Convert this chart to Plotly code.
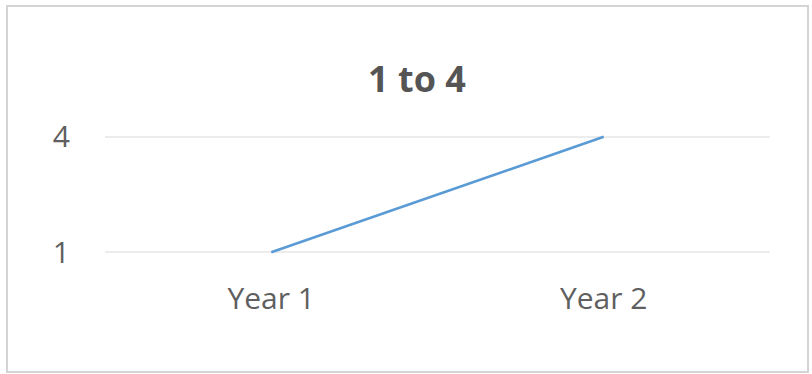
import plotly.graph_objects as go

# Series data
categories = ["Year 1", "Year 2"]
values = [1, 4]
y_ticks = [1, 4]
title_text = "1 to 4"

W, H = 812, 374
left, right, top, bottom = 105, 770, 133, 256
y_range = [0.9, 4.1]

fig = go.Figure()
fig.add_trace(go.Scatter(
    x=categories, y=values, mode="lines",
    line=dict(color="#5B9BD5", width=2.6),
    hoverinfo="skip", showlegend=False,
))

# Outer chart border, expressed in plot-area (paper) fractions
pw, ph = right - left, bottom - top
def px_x(px):
    return (px - left) / pw
def px_y(py):
    return (bottom - py) / ph

fig.add_shape(type="rect", xref="paper", yref="paper",
              x0=px_x(7), x1=px_x(808), y0=px_y(372), y1=px_y(6),
              line=dict(color="#D4D4D4", width=2), fillcolor="rgba(0,0,0,0)",
              layer="below")

fig.update_layout(
    width=W, height=H,
    margin=dict(l=left, r=W - right, t=top, b=H - bottom, pad=0),
    paper_bgcolor="white", plot_bgcolor="white",
    font=dict(family="Open Sans, Lato, sans-serif", color="#5F5F5F"),
    title=dict(text="<b>" + title_text + "</b>", x=417 / W, xanchor="center",
               y=1 - 79 / H, yanchor="middle", xref="container", yref="container",
               font=dict(size=36, color="#555555")),
    xaxis=dict(type="category", range=[-0.5, 1.5], showgrid=False, showline=False,
               zeroline=False, ticks="", tickfont=dict(size=30, color="#5F5F5F"),
               ticklabelstandoff=22, fixedrange=True),
    yaxis=dict(range=y_range, tickvals=y_ticks, ticktext=[str(v) for v in y_ticks],
               showgrid=True, gridcolor="#ECECEC", gridwidth=1.5, zeroline=False,
               showline=False, ticks="", tickfont=dict(size=30, color="#5F5F5F"),
               ticklabelstandoff=34, fixedrange=True),
)

fig.write_html("out.html")
